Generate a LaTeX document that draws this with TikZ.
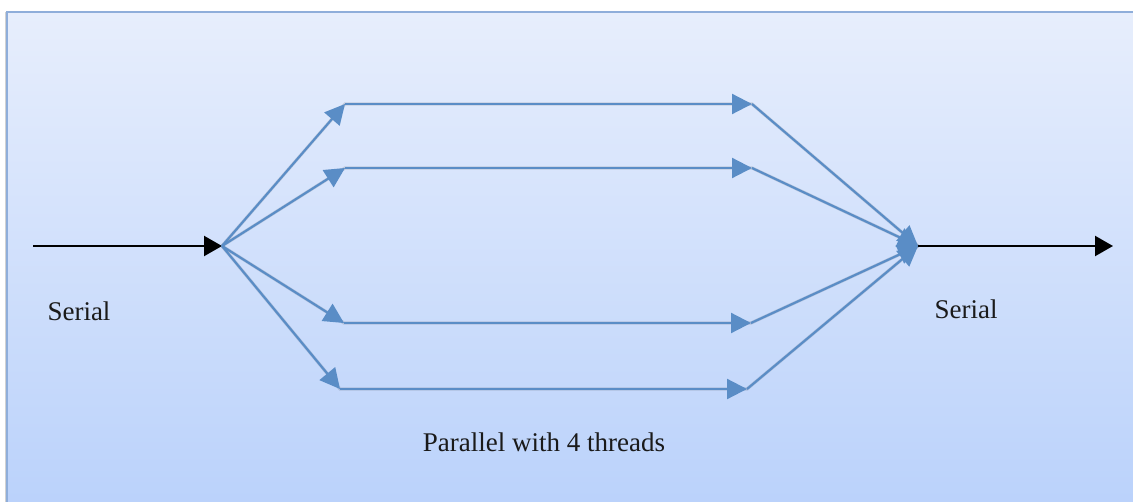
\documentclass[tikz,border=0pt]{standalone}
\usepackage{fontspec}
\setmainfont{Liberation Serif}
\usetikzlibrary{arrows.meta}
\definecolor{flowblue}{HTML}{5A8DC6}
\definecolor{panelframe}{HTML}{8FAEDA}
\definecolor{paneltop}{HTML}{E7EEFC}
\definecolor{panelbottom}{HTML}{B9D1FB}
\definecolor{labelink}{HTML}{1A1A1A}
\tikzset{
  serialflow/.style={draw=black, line width=1.1pt, -{Triangle[length=9pt,width=10pt]}},
  threadflow/.style={draw=flowblue, line width=1.1pt, -{Triangle[length=10pt,width=10pt]}},
  threadshadow/.style={draw=black, opacity=0.12, line width=1.6pt},
  caption/.style={font=\fontsize{13.5}{15}\selectfont, text=labelink, inner sep=0pt},
}
\begin{document}
\begin{tikzpicture}[x=0.5pt,y=-0.5pt]
  \useasboundingbox (0,0) rectangle (1133,502);
  % panel background
  \begin{scope}
    \clip (0,0) rectangle (1133,502);
    \fill[black!18] (5,12) rectangle (1150,520);
    \shade[top color=paneltop, bottom color=panelbottom] (7,12) rectangle (1150,520);
    \draw[panelframe, line width=1.2pt] (1150,12) -- (7,12) -- (7,520);
  \end{scope}

  % junction points
  \coordinate (start) at (33,246);
  \coordinate (fork) at (222,246);
  \coordinate (join) at (918,246);
  \coordinate (finish) at (1113,246);

  \coordinate (a1) at (345,104);
  \coordinate (a2) at (345,168);
  \coordinate (a3) at (344,323);
  \coordinate (a4) at (340,389);
  \coordinate (b1) at (752,104);
  \coordinate (b2) at (752,168);
  \coordinate (b3) at (751,323);
  \coordinate (b4) at (747,389);

  % soft drop shadow under the thread lines
  \begin{scope}[shift={(1.5,2)}]
    \foreach \i in {1,2,3,4}{
      \draw[threadshadow] (fork) -- (a\i) -- (b\i) -- (join);
    }
  \end{scope}

  % serial parts
  \draw[serialflow] (start) -- (fork);
  \draw[serialflow] (join) -- (finish);

  % four threads
  \foreach \i in {1,2,3,4}{
    \draw[threadflow] (fork) -- (a\i);
    \draw[threadflow] (a\i) -- (b\i);
    \draw[threadflow] (b\i) -- (join);
  }

  % labels
  \node[caption] (serialin) at (79,311) {Serial};
  \node[caption] (serialout) at (966,309) {Serial};
  \node[caption] (parallel) at (544,442) {Parallel with 4 threads};
\end{tikzpicture}
\end{document}
